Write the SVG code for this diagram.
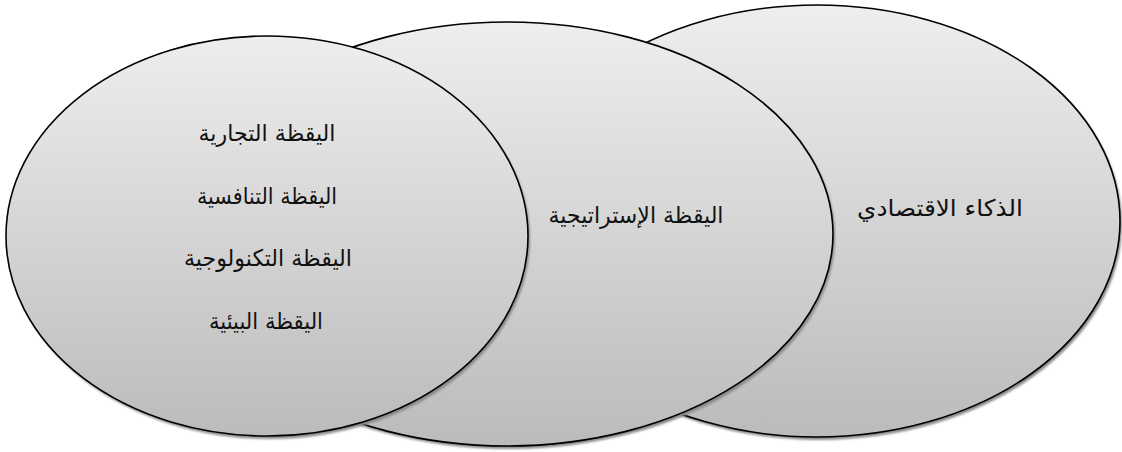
<svg xmlns="http://www.w3.org/2000/svg" width="1122" height="452" viewBox="0 0 1122 452">
  <defs>
    <linearGradient id="shade" x1="0" y1="0" x2="0" y2="1">
      <stop offset="0" stop-color="#eeeeee"/>
      <stop offset="1" stop-color="#bbbbbb"/>
    </linearGradient>
    <filter id="soft" x="-5%" y="-5%" width="110%" height="110%">
      <feGaussianBlur stdDeviation="0.8"/>
    </filter>
  </defs>
  <style>
    .shadow { fill: #8a8a8a; filter: url(#soft); }
    .disc { fill: url(#shade); stroke: #000; stroke-width: 1.6; }
    .label { font-family: "DejaVu Sans", "Noto Sans", sans-serif; font-size: 23px; fill: #111; text-anchor: middle; direction: rtl; }
  </style>
  <rect width="1122" height="452" fill="#ffffff"/>

  <!-- outer ring: economic intelligence -->
  <g id="economic-intelligence">
    <ellipse class="shadow" cx="819" cy="224" rx="303" ry="216"/>
    <ellipse class="disc" cx="817" cy="221" rx="303" ry="216"/>
    <text class="label" x="940" y="216" textLength="166" lengthAdjust="spacingAndGlyphs">الذكاء الاقتصادي</text>
  </g>

  <!-- middle ring: strategic watch -->
  <g id="strategic-watch">
    <ellipse class="shadow" cx="509" cy="237" rx="326" ry="212"/>
    <ellipse class="disc" cx="507" cy="234" rx="326" ry="212"/>
    <text class="label" x="636" y="223" textLength="175" lengthAdjust="spacingAndGlyphs">اليقظة الإستراتيجية</text>
  </g>

  <!-- inner ring: the four kinds of watch -->
  <g id="watch-types">
    <ellipse class="shadow" cx="269" cy="239" rx="261" ry="200"/>
    <ellipse class="disc" cx="267" cy="236" rx="261" ry="200"/>
    <text class="label" x="267" y="141" textLength="137" lengthAdjust="spacingAndGlyphs">اليقظة التجارية</text>
    <text class="label" x="267" y="204" textLength="140" lengthAdjust="spacingAndGlyphs">اليقظة التنافسية</text>
    <text class="label" x="268" y="266" textLength="168" lengthAdjust="spacingAndGlyphs">اليقظة التكنولوجية</text>
    <text class="label" x="266" y="329" textLength="114" lengthAdjust="spacingAndGlyphs">اليقظة البيئية</text>
  </g>

  <!-- no connectors: the rings overlap directly -->
  <g id="connectors"/>
</svg>
